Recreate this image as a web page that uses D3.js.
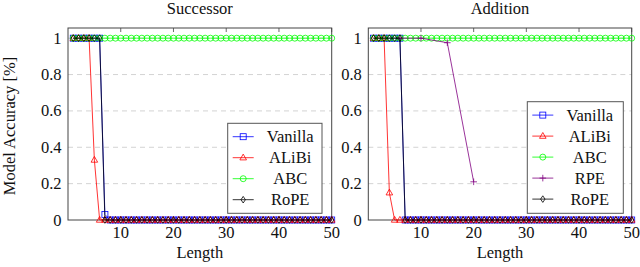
<!DOCTYPE html>
<html>
<head>
<meta charset="utf-8">
<script src="https://cdn.jsdelivr.net/npm/d3@7"></script>
<style>
  body { margin: 0; background: #fff; }
  svg { display: block; }
  text { font-family: 'Liberation Serif', 'Times New Roman', Tinos, 'DejaVu Serif', serif; }
</style>
</head>
<body>
<svg id="chart" width="640" height="267"></svg>
<script>
const lengths = [1,2,3,4,5,6,7,8,9,10,11,12,13,14,15,16,17,18,19,20,21,22,23,24,25,
                 26,27,28,29,30,31,32,33,34,35,36,37,38,39,40,41,42,43,44,45,46,47,48,49,50];

// Successor task
const succVanilla = [1,1,1,1,1,1,0.03,0,0,0,0,0,0,0,0,0,0,0,0,0,0,0,0,0,0,
                     0,0,0,0,0,0,0,0,0,0,0,0,0,0,0,0,0,0,0,0,0,0,0,0,0];
const succAlibi   = [1,1,1,1,0.33,0,0,0,0,0,0,0,0,0,0,0,0,0,0,0,0,0,0,0,0,
                     0,0,0,0,0,0,0,0,0,0,0,0,0,0,0,0,0,0,0,0,0,0,0,0,0];
const succAbc     = [1,1,1,1,1,1,1,1,1,1,1,1,1,1,1,1,1,1,1,1,1,1,1,1,1,
                     1,1,1,1,1,1,1,1,1,1,1,1,1,1,1,1,1,1,1,1,1,1,1,1,1];
const succRope    = [1,1,1,1,1,1,0,0,0,0,0,0,0,0,0,0,0,0,0,0,0,0,0,0,0,
                     0,0,0,0,0,0,0,0,0,0,0,0,0,0,0,0,0,0,0,0,0,0,0,0,0];

// Addition task
const addVanilla = [1,1,1,1,1,1,0,0,0,0,0,0,0,0,0,0,0,0,0,0,0,0,0,0,0,
                    0,0,0,0,0,0,0,0,0,0,0,0,0,0,0,0,0,0,0,0,0,0,0,0,0];
const addAlibi   = [1,1,1,0.15,0,0,0,0,0,0,0,0,0,0,0,0,0,0,0,0,0,0,0,0,0,
                    0,0,0,0,0,0,0,0,0,0,0,0,0,0,0,0,0,0,0,0,0,0,0,0,0];
const addAbc     = [1,1,1,1,1,1,1,1,1,1,1,1,1,1,1,1,1,1,1,1,1,1,1,1,1,
                    1,1,1,1,1,1,1,1,1,1,1,1,1,1,1,1,1,1,1,1,1,1,1,1,1];
const rpeLengths = [6, 10, 15, 20];
const addRpe     = [1, 1, 0.975, 0.21];
const addRope    = [1,1,1,1,1,1,0,0,0,0,0,0,0,0,0,0,0,0,0,0,0,0,0,0,0,
                    0,0,0,0,0,0,0,0,0,0,0,0,0,0,0,0,0,0,0,0,0,0,0,0,0];

const yTicks = [0, 0.2, 0.4, 0.6, 0.8, 1];
const xTicks = [10, 20, 30, 40, 50];

const styles = {
  Vanilla: { color: "#0000ff", mark: "square" },
  ALiBi:   { color: "#ff0000", mark: "triangle" },
  ABC:     { color: "#00ff00", mark: "circle" },
  RPE:     { color: "#800080", mark: "plus" },
  RoPE:    { color: "#000000", mark: "diamond" }
};

const panels = [
  { title: "Successor", x0: 68, x1: 331.7,
    legend: { x: 227.7, y: 123.3, w: 94.3, h: 90 },
    series: [
      { name: "Vanilla", xs: lengths, ys: succVanilla },
      { name: "ALiBi", xs: lengths, ys: succAlibi },
      { name: "ABC", xs: lengths, ys: succAbc },
      { name: "RoPE", xs: lengths, ys: succRope }
    ] },
  { title: "Addition", x0: 368.3, x1: 631.7,
    legend: { x: 527.3, y: 101.7, w: 96, h: 111.6 },
    series: [
      { name: "Vanilla", xs: lengths, ys: addVanilla },
      { name: "ALiBi", xs: lengths, ys: addAlibi },
      { name: "ABC", xs: lengths, ys: addAbc },
      { name: "RPE", xs: rpeLengths, ys: addRpe },
      { name: "RoPE", xs: lengths, ys: addRope }
    ] }
];

const svg = d3.select("#chart");
const fontSize = 16.5;
const yTop = 28, yBottom = 220;

function drawMark(g, type, color, cx, cy) {
  if (type === "square") {
    g.append("rect").attr("x", cx - 3).attr("y", cy - 3).attr("width", 6).attr("height", 6)
      .attr("fill", "none").attr("stroke", color).attr("stroke-width", 0.8);
  } else if (type === "triangle") {
    g.append("path").attr("d", `M${cx},${cy - 3.6}L${cx + 3.3},${cy + 2.2}L${cx - 3.3},${cy + 2.2}Z`)
      .attr("fill", "none").attr("stroke", color).attr("stroke-width", 0.8);
  } else if (type === "circle") {
    g.append("circle").attr("cx", cx).attr("cy", cy).attr("r", 3)
      .attr("fill", "none").attr("stroke", color).attr("stroke-width", 0.8);
  } else if (type === "plus") {
    g.append("path").attr("d", `M${cx - 3.3},${cy}H${cx + 3.3}M${cx},${cy - 3.3}V${cy + 3.3}`)
      .attr("stroke", color).attr("stroke-width", 0.8);
  } else if (type === "diamond") {
    g.append("path").attr("d", `M${cx},${cy - 3.3}L${cx + 2.2},${cy}L${cx},${cy + 3.3}L${cx - 2.2},${cy}Z`)
      .attr("fill", "none").attr("stroke", color).attr("stroke-width", 0.8);
  }
}

panels.forEach(p => {
  const x = d3.scaleLinear().domain([0, 50]).range([p.x0, p.x1]);
  const y = d3.scaleLinear().domain([0, 1.056]).range([yBottom, yTop]);
  const g = svg.append("g");

  // grid
  g.selectAll(".grid").data(yTicks.filter(t => t > 0)).join("line")
    .attr("x1", p.x0).attr("x2", p.x1)
    .attr("y1", d => y(d)).attr("y2", d => y(d))
    .attr("stroke", "#c8c8c8").attr("stroke-width", 0.8).attr("stroke-dasharray", "5,4");

  // x ticks (inside, bottom and top)
  xTicks.forEach(t => {
    g.append("line").attr("x1", x(t)).attr("x2", x(t)).attr("y1", yBottom).attr("y2", yBottom - 4)
      .attr("stroke", "#444").attr("stroke-width", 0.8);
    g.append("line").attr("x1", x(t)).attr("x2", x(t)).attr("y1", yTop).attr("y2", yTop + 4)
      .attr("stroke", "#444").attr("stroke-width", 0.8);
  });

  // frame
  g.append("rect").attr("x", p.x0).attr("y", yTop)
    .attr("width", p.x1 - p.x0).attr("height", yBottom - yTop)
    .attr("fill", "none").attr("stroke", "#444").attr("stroke-width", 1);

  // tick labels
  g.selectAll(".ylab").data(yTicks).join("text")
    .attr("x", p.x0 - 6.5).attr("y", d => y(d) + 5.5)
    .attr("text-anchor", "end").attr("font-size", fontSize).attr("fill", "#111")
    .text(d => d3.format("~g")(d));
  g.selectAll(".xlab").data(xTicks).join("text")
    .attr("x", d => x(d)).attr("y", 238)
    .attr("text-anchor", "middle").attr("font-size", fontSize).attr("fill", "#111")
    .text(d => d);

  // titles
  g.append("text").attr("x", (p.x0 + p.x1) / 2).attr("y", 13.5)
    .attr("text-anchor", "middle").attr("font-size", fontSize).attr("fill", "#111").text(p.title);
  g.append("text").attr("x", (p.x0 + p.x1) / 2).attr("y", 258)
    .attr("text-anchor", "middle").attr("font-size", fontSize).attr("fill", "#111").text("Length");

  // series
  const line = d3.line().x(d => x(d[0])).y(d => y(d[1]));
  p.series.forEach(s => {
    const st = styles[s.name];
    const pts = s.xs.map((v, i) => [v, s.ys[i]]);
    g.append("path").datum(pts).attr("d", line)
      .attr("fill", "none").attr("stroke", st.color).attr("stroke-width", 0.8);
    const mg = g.append("g");
    pts.forEach(d => drawMark(mg, st.mark, st.color, x(d[0]), y(d[1])));
  });

  // legend
  const L = p.legend;
  const lg = g.append("g");
  lg.append("rect").attr("x", L.x).attr("y", L.y).attr("width", L.w).attr("height", L.h)
    .attr("fill", "#fff").attr("stroke", "#555").attr("stroke-width", 1);
  p.series.forEach((s, i) => {
    const st = styles[s.name];
    const ry = L.y + 13.4 + i * 21;
    lg.append("line").attr("x1", L.x + 5).attr("x2", L.x + 26).attr("y1", ry).attr("y2", ry)
      .attr("stroke", st.color).attr("stroke-width", 0.8);
    drawMark(lg, st.mark, st.color, L.x + 15.5, ry);
    lg.append("text").attr("x", L.x + 62.5).attr("y", ry + 5.5)
      .attr("text-anchor", "middle").attr("font-size", fontSize).attr("fill", "#111").text(s.name);
  });
});

// y axis label
svg.append("text")
  .attr("transform", "translate(15,126) rotate(-90)")
  .attr("text-anchor", "middle").attr("font-size", fontSize).attr("fill", "#111")
  .text("Model Accuracy [%]");
</script>
</body>
</html>
